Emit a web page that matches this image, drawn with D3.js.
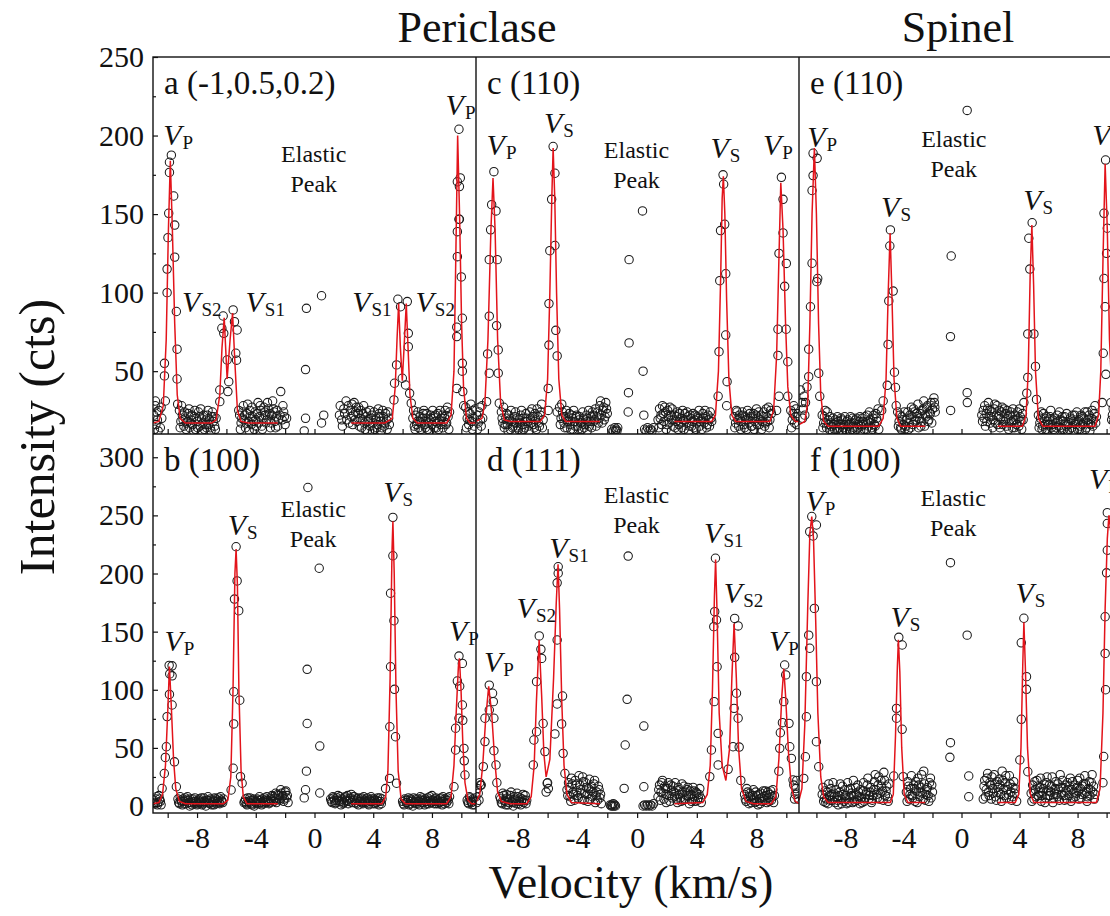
<!DOCTYPE html>
<html><head><meta charset="utf-8">
<script src="https://cdn.jsdelivr.net/npm/d3@7"></script>
<style>
body{margin:0;background:#fff}
svg{display:block}
text{font-family:"Liberation Serif","Times New Roman",serif;fill:#111}
</style>
</head><body>
<svg id="chart" width="1110" height="916"></svg>
<script>
// ---------------- DATA ----------------
const columnTitles = ["Periclase", "Spinel"];
const panelNames = ["a (-1,0.5,0.2)", "b (100)", "c (110)", "d (111)", "e (110)", "f (100)"];
const xAxisTitle = "Velocity (km/s)";
const yAxisTitle = "Intensity (cts)";
const xDomains = [[-11, 11], [-10.8, 10.85], [-11.2, 11.2]];
const yDomains = [[10, 250], [-6, 320]];
const xTickAll = [-10, -8, -6, -4, -2, 0, 2, 4, 6, 8, 10];
const xTickLabels = [-8, -4, 0, 4, 8];
const yTopMajor = [50, 100, 150, 200, 250];
const yTopMinor = [25, 75, 125, 175, 225];
const yBotMajor = [0, 50, 100, 150, 200, 250, 300];
const yBotMinor = [25, 75, 125, 175, 225, 275];

// panel a (-1,0.5,0.2) periclase
const aPeaks = [[-9.75,187.5],[-9.88,183],[-9.88,176.5],[-9.59,161.5],[-9.93,150.5],[-9.52,143],[-9.98,135],[-9.52,122.6],[-10.04,115],[-10.04,100],[-9.41,88],[-9.36,64],[-10.22,55],[-10.22,47],[-9.36,45],[-10.16,31],[-9.32,29],[-10.84,31],
 [-6.22,85.1],[-6.31,77.3],[-6.18,74.1],[-5.95,57.1],[-5.84,43.3],[-5.54,89],[-5.45,81.5],[-5.27,76.2],[-5.36,61.4],[-5.31,57],[-6.45,38],[-6.45,30.6],[-5.9,37],[-5.16,25],
 [5.68,95.8],[6.32,94.3],[5.59,54],[5.45,42.3],[6.2,41.2],[6.39,74.1],[6.39,65.6],[6.48,35.9],[6.59,29.6],[5.86,91],[5.98,45.5],[5.41,31.7],
 [9.84,204],[9.73,170.6],[9.93,173],[9.87,167.5],[9.84,146.7],[9.87,146.7],[9.73,138.8],[9.73,122.9],[10.0,110],[10.07,83.7],[9.69,78],[9.69,72],[9.69,39],[10.07,55],[10.07,50],[10.1,37],[10.16,28],
 [-0.55,90],[0.48,98],[-0.61,51],[-0.61,20],[0.63,22],[0.48,17],[-0.7,12]];
const aNoise = [[-10.95,22],[-10.85,28],[-10.8,16],[-10.7,19],[-10.6,25],[-10.5,14],[-10.4,20],
 [-9.2,25],[-9.1,18],[-9.0,22],[-8.9,15],[-8.8,20],[-8.7,17],[-8.6,23],[-8.5,14],[-8.4,19],[-8.3,16],[-8.2,21],[-8.1,13],[-8.0,18],[-7.9,24],[-7.8,15],[-7.7,20],[-7.6,17],[-7.5,13],[-7.4,19],[-7.3,22],[-7.2,16],[-7.1,14],[-7.0,21],[-6.9,18],[-6.8,15],[-6.7,20],
 [-5.1,22],[-5.0,17],[-4.9,24],[-4.8,19],[-4.7,14],[-4.6,23],[-4.5,18],[-4.4,25],[-4.3,16],[-4.2,21],[-4.1,13],[-4.0,19],[-3.9,23],[-3.8,17],[-3.7,28],[-3.6,15],[-3.5,20],[-3.4,24],[-3.3,17],[-3.2,30],[-3.1,19],[-3.0,14],[-2.9,22],[-2.8,26],[-2.7,18],[-2.6,21],[-2.5,15],[-2.3,37],[-2.2,19],[-2.1,24],[-2.0,16],[-1.9,20],
 [1.7,22],[1.9,15],[2.0,26],[2.2,19],[2.3,28],[2.5,21],[2.6,16],[2.7,30],[2.8,24],[2.9,18],[3.0,27],[3.1,20],[3.2,14],[3.3,23],[3.4,17],[3.5,21],[3.6,12],[3.7,19],[3.8,15],[3.9,22],[4.0,17],[4.1,13],[4.2,20],[4.3,16],[4.4,23],[4.5,18],[4.6,14],[4.7,21],[4.8,17],[4.9,19],[5.0,24],[5.1,16],
 [6.7,20],[6.8,15],[6.9,22],[7.0,18],[7.1,14],[7.2,21],[7.3,17],[7.4,23],[7.5,16],[7.6,20],[7.7,13],[7.8,19],[7.9,22],[8.0,16],[8.1,21],[8.2,18],[8.3,14],[8.4,23],[8.5,19],[8.6,16],[8.7,22],[8.8,18],[8.9,25],[9.0,17],[9.1,21],[9.2,24],
 [10.3,27],[10.4,20],[10.5,16],[10.6,23],[10.7,18],[10.8,25],[10.9,15],[11.0,21]];
const aNoiseExtra = [[-10.9,13],[-10.75,24],[-10.65,12],[-10.45,27],
 [-9.15,14],[-9.05,28],[-8.95,19],[-8.85,24],[-8.75,13],[-8.65,18],[-8.55,26],[-8.45,17],[-8.35,22],[-8.25,12],[-8.15,25],[-8.05,20],[-7.95,14],[-7.85,21],[-7.75,26],[-7.65,12],[-7.55,22],[-7.45,16],[-7.35,14],[-7.25,25],[-7.15,19],[-7.05,12],[-6.95,24],[-6.85,21],[-6.75,13],
 [-5.05,13],[-4.95,20],[-4.85,28],[-4.75,22],[-4.65,17],[-4.55,29],[-4.45,12],[-4.35,21],[-4.25,27],[-4.15,18],[-4.05,24],[-3.95,15],[-3.85,30],[-3.75,21],[-3.65,25],[-3.55,13],[-3.45,27],[-3.35,22],[-3.25,19],[-3.15,26],[-3.05,23],[-2.95,17],[-2.85,31],[-2.75,24],[-2.65,14],[-2.55,25],[-2.45,19],[-2.35,22],[-2.15,28],[-2.05,21],
 [1.75,28],[1.85,19],[2.05,23],[2.15,31],[2.35,17],[2.45,25],[2.55,29],[2.65,22],[2.75,19],[2.85,27],[2.95,23],[3.05,15],[3.15,25],[3.25,19],[3.35,28],[3.45,13],[3.55,24],[3.65,18],[3.75,25],[3.85,20],[3.95,12],[4.05,24],[4.15,19],[4.25,14],[4.35,26],[4.45,21],[4.55,12],[4.65,25],[4.75,15],[4.85,23],[4.95,13],[5.05,20],
 [6.75,25],[6.85,13],[6.95,16],[7.05,24],[7.15,18],[7.25,13],[7.35,20],[7.45,25],[7.55,14],[7.65,23],[7.75,17],[7.85,12],[7.95,20],[8.05,25],[8.15,14],[8.25,22],[8.35,17],[8.45,13],[8.55,25],[8.65,20],[8.75,14],[8.85,21],[8.95,16],[9.05,27],[9.15,13],
 [10.35,14],[10.45,24],[10.55,19],[10.65,29],[10.75,13],[10.85,20],[10.95,26]];
const aFit = [
 [[-11,17],[-10.6,18],[-10.3,28],[-10.1,70],[-9.95,140],[-9.82,184],[-9.68,140],[-9.52,80],[-9.35,35],[-9.15,20],[-8.8,17],[-7,17],[-6.7,19],[-6.45,35],[-6.3,65],[-6.15,84],[-5.95,45],[-5.75,70],[-5.58,87],[-5.42,55],[-5.25,25],[-5.0,18],[-4.5,17],[-2.5,17]],
 [[2.5,17],[4.8,17],[5.3,20],[5.5,40],[5.62,70],[5.73,93],[5.85,65],[5.98,44],[6.1,65],[6.25,93],[6.35,70],[6.5,35],[6.7,20],[7,17],[9.0,17],[9.3,22],[9.5,50],[9.62,120],[9.75,200],[9.88,150],[10.02,80],[10.15,40],[10.35,20],[10.6,17],[11,17]]];
const aLabels = [[-10.31,194,"P"],[-9.02,87.9,"S2"],[-4.7,87.9,"S1"],[2.57,87.9,"S1"],[6.88,87.9,"S2"],[8.93,213,"P"]];
const aElastic = [-0.05,183.4];

// panel b (100) periclase
const bPeaks = [[-9.7,120.6],[-9.9,121],[-9.86,113.6],[-9.7,112],[-9.88,96],[-9.7,86.9],[-10.04,76.9],[-10.09,51],[-10.16,41.8],[-9.54,38],[-10.23,28],[-9.41,16.6],[-10.38,15.1],
 [-5.34,223],[-5.27,193.6],[-5.45,178],[-5.16,168],[-5.5,98.3],[-5.09,91],[-5.5,70.6],[-5.54,32.5],[-5.04,25.3],[-5.68,13.8],[-4.93,19.6],
 [-0.45,274],[0.32,204.5],[-0.5,117.6],[-0.5,71],[0.36,51.6],[-0.55,30],[-0.61,14],[0.36,11.2],[-0.7,7],
 [5.34,248.3],[5.34,215.3],[5.18,183],[5.41,159.4],[5.18,119.8],[5.45,100.4],[5.13,68.2],[5.52,59.6],[5.11,23.8],[5.59,19.6],[4.84,15],
 [9.84,129],[10.07,122.7],[9.73,107.5],[9.89,103],[10.07,86.9],[9.84,75.5],[10.1,73.7],[9.61,66.9],[9.61,48.2],[10.18,49.6],[10.2,38.9],[10.25,26.7],[9.5,16.6]];
const bNoise = [[-10.95,5],[-10.85,2],[-10.75,8],[-10.65,3],[-10.55,6],[-10.45,1],
 [-9.3,6],[-9.2,2],[-9.1,5],[-9.0,1],[-8.9,4],[-8.8,7],[-8.7,2],[-8.6,5],[-8.5,0],[-8.4,3],[-8.3,6],[-8.2,2],[-8.1,4],[-8.0,1],[-7.9,5],[-7.8,3],[-7.7,7],[-7.6,2],[-7.5,4],[-7.4,0],[-7.3,5],[-7.2,3],[-7.1,6],[-7.0,1],[-6.9,4],[-6.8,7],[-6.7,2],[-6.6,5],[-6.5,3],[-6.4,8],[-6.3,4],[-6.2,6],
 [-4.8,3],[-4.7,6],[-4.6,1],[-4.5,4],[-4.4,7],[-4.3,2],[-4.2,5],[-4.1,0],[-4.0,3],[-3.9,6],[-3.8,2],[-3.7,5],[-3.6,1],[-3.5,4],[-3.4,7],[-3.3,3],[-3.2,5],[-3.1,2],[-3.0,6],[-2.9,9],[-2.8,4],[-2.7,7],[-2.6,3],[-2.5,10],[-2.4,6],[-2.3,14],[-2.2,8],[-2.1,4],[-2.0,12],[-1.9,7],[-1.8,3],
 [1.1,6],[1.2,3],[1.3,7],[1.4,2],[1.5,5],[1.6,9],[1.7,4],[1.8,1],[1.9,6],[2.0,3],[2.1,8],[2.2,4],[2.3,2],[2.4,6],[2.5,10],[2.6,5],[2.7,8],[2.8,3],[2.9,6],[3.0,1],[3.1,4],[3.2,7],[3.3,2],[3.4,5],[3.5,3],[3.6,7],[3.7,1],[3.8,4],[3.9,6],[4.0,2],[4.1,5],[4.2,3],[4.3,7],[4.4,1],[4.5,4],[4.6,6],
 [6.0,4],[6.1,1],[6.2,5],[6.3,3],[6.4,7],[6.5,2],[6.6,5],[6.7,0],[6.8,3],[6.9,6],[7.0,2],[7.1,4],[7.2,8],[7.3,3],[7.4,5],[7.5,1],[7.6,4],[7.7,7],[7.8,2],[7.9,5],[8.0,9],[8.1,4],[8.2,6],[8.3,2],[8.4,5],[8.5,3],[8.6,7],[8.7,1],[8.8,4],[8.9,6],[9.0,3],[9.1,5],[9.2,8],
 [10.4,5],[10.5,2],[10.6,7],[10.7,3],[10.8,6],[10.9,1],[11.0,4]];
const bNoiseExtra = [[-10.9,3],[-10.8,6],[-10.7,1],[-10.6,9],[-10.5,4],
 [-9.25,3],[-9.15,8],[-9.05,4],[-8.95,6],[-8.85,2],[-8.75,5],[-8.65,8],[-8.55,3],[-8.45,6],[-8.35,1],[-8.25,4],[-8.15,7],[-8.05,3],[-7.95,2],[-7.85,6],[-7.75,4],[-7.65,1],[-7.55,7],[-7.45,3],[-7.35,5],[-7.25,8],[-7.15,2],[-7.05,5],[-6.95,3],[-6.85,1],[-6.75,6],[-6.65,4],[-6.55,7],[-6.45,2],[-6.35,5],[-6.25,3],
 [-4.75,4],[-4.65,2],[-4.55,7],[-4.45,3],[-4.35,5],[-4.25,1],[-4.15,6],[-4.05,4],[-3.95,2],[-3.85,5],[-3.75,8],[-3.65,3],[-3.55,6],[-3.45,2],[-3.35,5],[-3.25,8],[-3.15,4],[-3.05,3],[-2.95,5],[-2.85,8],[-2.75,4],[-2.65,11],[-2.55,6],[-2.45,9],[-2.35,5],[-2.25,11],[-2.15,9],[-2.05,6],[-1.95,13],[-1.85,9],
 [1.15,4],[1.25,8],[1.35,5],[1.45,3],[1.55,7],[1.65,5],[1.75,8],[1.85,4],[1.95,2],[2.05,7],[2.15,5],[2.25,9],[2.35,4],[2.45,7],[2.55,3],[2.65,8],[2.75,5],[2.85,2],[2.95,7],[3.05,4],[3.15,6],[3.25,3],[3.35,8],[3.45,4],[3.55,6],[3.65,2],[3.75,5],[3.85,8],[3.95,4],[4.05,6],[4.15,2],[4.25,5],[4.35,4],[4.45,7],[4.55,2],
 [6.05,2],[6.15,6],[6.25,3],[6.35,5],[6.45,1],[6.55,6],[6.65,4],[6.75,7],[6.85,2],[6.95,4],[7.05,6],[7.15,1],[7.25,5],[7.35,7],[7.45,3],[7.55,6],[7.65,2],[7.75,4],[7.85,8],[7.95,3],[8.05,5],[8.15,2],[8.25,7],[8.35,4],[8.45,2],[8.55,6],[8.65,4],[8.75,8],[8.85,2],[8.95,5],[9.05,7],[9.15,2],
 [10.45,3],[10.55,8],[10.65,4],[10.75,1],[10.85,5],[10.95,7]];
const bFit = [
 [[-11,2],[-10.6,3],[-10.35,10],[-10.15,35],[-10.0,80],[-9.88,120],[-9.75,85],[-9.6,40],[-9.45,15],[-9.2,4],[-8.8,2],[-6.2,2],[-5.9,5],[-5.7,25],[-5.55,100],[-5.42,200],[-5.34,221],[-5.25,190],[-5.15,100],[-5.0,30],[-4.85,8],[-4.6,2],[-2.5,2]],
 [[2.5,2],[4.6,2],[4.85,8],[5.0,30],[5.15,110],[5.28,220],[5.34,245],[5.43,200],[5.55,100],[5.7,30],[5.9,6],[6.2,2],[9.0,2],[9.3,8],[9.5,35],[9.65,80],[9.8,120],[9.87,127],[9.98,100],[10.1,55],[10.25,20],[10.45,5],[10.7,2],[11,2]]];
const bLabels = [[-10.22,133.6,"P"],[-5.91,233.1,"S"],[4.68,261.8,"S"],[9.16,142.2,"P"]];
const bElastic = [-0.09,248.9];

// panel c (110) periclase
const cPeaks = [[-9.6,177],[-9.75,156],[-9.46,152],[-9.82,140],[-9.91,121],[-9.38,121],[-9.91,85],[-9.42,79],[-10.02,61],[-9.31,63.5],[-9.91,48.7],[-9.31,48.7],[-10.09,30.6],[-9.24,29.6],
 [-5.63,193],[-5.51,176],[-5.73,159.4],[-5.51,130],[-5.85,126.7],[-5.91,93],[-5.45,76],[-5.91,66.6],[-5.36,59.7],[-5.96,39],[-5.96,25],[-5.36,24],
 [0.36,152],[-0.54,121],[-0.54,68],[0.4,50],[-0.58,36.3],[-0.6,24],[0.45,22],
 [5.76,175],[5.8,169],[5.87,143.5],[5.59,139.5],[5.94,112],[5.54,107.6],[5.94,73],[5.49,62.4],[6.03,43.3],[5.43,34],[6.0,28],
 [9.67,173.4],[9.78,159.4],[9.78,138],[9.51,125],[10.0,118.6],[9.89,104],[9.44,76.7],[9.99,76.7],[9.44,60],[10.1,56],[9.51,34],[10.1,34],[9.35,25]];
const cNoise = [[-10.75,22],[-10.65,17],[-10.55,27],[-10.45,15],[-10.35,20],
 [-9.1,24],[-9.0,17],[-8.9,14],[-8.8,20],[-8.7,16],[-8.6,22],[-8.5,13],[-8.4,18],[-8.3,15],[-8.2,21],[-8.1,17],[-8.0,14],[-7.9,19],[-7.8,22],[-7.7,16],[-7.6,13],[-7.5,18],[-7.4,20],[-7.3,15],[-7.2,24],[-7.1,17],[-7.0,21],[-6.9,14],[-6.8,19],[-6.7,26],[-6.6,17],[-6.5,22],[-6.4,29],[-6.3,19],
 [-5.2,27],[-5.1,20],[-5.0,24],[-4.9,17],[-4.8,21],[-4.7,14],[-4.6,19],[-4.5,16],[-4.4,22],[-4.3,13],[-4.2,18],[-4.1,21],[-4.0,15],[-3.9,19],[-3.8,17],[-3.7,13],[-3.6,20],[-3.5,16],[-3.4,22],[-3.3,18],[-3.2,15],[-3.1,21],[-3.0,24],[-2.9,18],[-2.8,26],[-2.7,21],[-2.6,17],[-2.5,28],[-2.4,22],[-2.3,25],[-2.2,19],[-2.1,30],[-2.0,23],
 [-1.7,13],[-1.6,12],[-1.5,14],[-1.45,12],[-1.4,13],[-1.35,12],[-1.3,14],
 [0.5,13],[0.6,12],[0.7,14],[0.8,12],[0.9,13],[1.0,12],[1.1,14],
 [1.4,19],[1.5,26],[1.6,22],[1.7,28],[1.8,18],[1.9,24],[2.0,16],[2.1,21],[2.2,27],[2.3,19],[2.4,15],[2.5,22],[2.6,18],[2.7,24],[2.8,16],[2.9,20],[3.0,14],[3.1,19],[3.2,23],[3.3,17],[3.4,21],[3.5,15],[3.6,20],[3.7,18],[3.8,14],[3.9,22],[4.0,17],[4.1,20],[4.2,15],[4.3,19],[4.4,23],[4.5,17],[4.6,21],[4.7,16],[4.8,19],[4.9,24],[5.0,18],
 [6.5,21],[6.6,17],[6.7,24],[6.8,15],[6.9,20],[7.0,18],[7.1,22],[7.2,14],[7.3,19],[7.4,25],[7.5,17],[7.6,21],[7.7,15],[7.8,23],[7.9,18],[8.0,26],[8.1,20],[8.2,16],[8.3,22],[8.4,18],[8.5,24],[8.6,17],[8.7,21],[8.8,27],[8.9,19],[9.0,23],
 [10.3,25],[10.4,19],[10.5,28],[10.6,21],[10.7,16],[10.8,23]];
const cNoiseExtra = [[-10.7,13],[-10.6,24],[-10.5,19],[-10.4,28],
 [-9.05,20],[-8.95,27],[-8.85,16],[-8.75,23],[-8.65,12],[-8.55,19],[-8.45,25],[-8.35,14],[-8.25,17],[-8.15,24],[-8.05,20],[-7.95,13],[-7.85,17],[-7.75,25],[-7.65,20],[-7.55,14],[-7.45,23],[-7.35,18],[-7.25,12],[-7.15,20],[-7.05,26],[-6.95,16],[-6.85,23],[-6.75,13],[-6.65,21],[-6.55,15],[-6.45,24],[-6.35,14],
 [-5.15,16],[-5.05,29],[-4.95,21],[-4.85,14],[-4.75,25],[-4.65,18],[-4.55,23],[-4.45,13],[-4.35,20],[-4.25,25],[-4.15,15],[-4.05,22],[-3.95,13],[-3.85,21],[-3.75,17],[-3.65,24],[-3.55,14],[-3.45,19],[-3.35,12],[-3.25,25],[-3.15,18],[-3.05,14],[-2.95,22],[-2.85,19],[-2.75,15],[-2.65,24],[-2.55,20],[-2.45,31],[-2.35,17],[-2.25,27],[-2.15,21],[-2.05,26],
 [1.45,14],[1.55,20],[1.65,16],[1.75,23],[1.85,27],[1.95,13],[2.05,25],[2.15,17],[2.25,22],[2.35,26],[2.45,19],[2.55,14],[2.65,21],[2.75,13],[2.85,23],[2.95,17],[3.05,25],[3.15,13],[3.25,19],[3.35,24],[3.45,12],[3.55,22],[3.65,15],[3.75,23],[3.85,19],[3.95,13],[4.05,21],[4.15,25],[4.25,18],[4.35,13],[4.45,20],[4.55,25],[4.65,14],[4.75,22],[4.85,15],[4.95,20],
 [6.55,14],[6.65,25],[6.75,19],[6.85,22],[6.95,13],[7.05,24],[7.15,16],[7.25,21],[7.35,13],[7.45,19],[7.55,23],[7.65,15],[7.75,20],[7.85,13],[7.95,22],[8.05,16],[8.15,24],[8.25,19],[8.35,13],[8.45,21],[8.55,15],[8.65,26],[8.75,18],[8.85,14],[8.95,25],
 [10.35,14],[10.45,23],[10.55,17],[10.65,26],[10.75,21]];
const cFit = [
 [[-10.8,18],[-10.4,20],[-10.2,30],[-10.0,70],[-9.8,140],[-9.66,173],[-9.52,140],[-9.35,70],[-9.15,30],[-8.9,19],[-8.5,18],[-6.5,18],[-6.2,22],[-6.0,45],[-5.85,100],[-5.72,160],[-5.63,192],[-5.52,160],[-5.4,100],[-5.25,45],[-5.05,22],[-4.8,18],[-2.5,18]],
 [[2.5,18],[5.0,18],[5.25,22],[5.45,50],[5.6,110],[5.7,160],[5.78,174],[5.88,150],[6.0,95],[6.15,45],[6.35,22],[6.6,18],[8.9,18],[9.15,25],[9.35,60],[9.5,120],[9.63,170],[9.78,140],[9.95,80],[10.1,40],[10.3,22],[10.6,18],[10.85,18]]];
const cLabels = [[-10.09,187.6,"P"],[-6.25,201.4,"S"],[4.92,185.5,"S"],[8.44,187.6,"P"]];
const cElastic = [-0.04,185.5];

// panel d (111) periclase
const dPeaks = [[-9.91,104],[-9.69,97],[-9.64,89.8],[-9.91,82.6],[-9.6,75.5],[-10.2,75.5],[-10.2,55.4],[-9.6,47.6],[-10.31,33.9],[-9.46,35.3],[-9.4,20],[-10.45,18],
 [-6.56,146.3],[-6.45,134.8],[-6.4,127],[-6.74,107],[-6.3,71],[-6.74,63.9],[-6.92,56.8],[-6.18,46.8],[-6.96,35.3],[-6.03,19.6],
 [-5.29,205.8],[-5.29,200.2],[-5.36,192],[-5.36,142.8],[-5.0,94.6],[-5.36,87.8],[-5.06,70.6],[-5.51,62],[-4.96,45.3],[-4.84,28],
 [-0.6,215],[-0.67,91.8],[0.45,68.8],[-0.8,52.5],[-0.87,15.2],[0.45,16.6],
 [5.25,213.1],[5.2,167.2],[5.32,160],[5.14,154.3],[5.36,119.8],[5.16,89.8],[5.43,62.5],[4.98,48.2],[4.87,25.3],[5.43,35.3],
 [6.54,161.4],[6.77,154.9],[6.54,127.9],[6.66,97],[6.5,84],[6.77,75.5],[6.43,51],[6.84,50.7],[6.1,31.6],[6.95,22],
 [9.89,121.3],[9.96,112.8],[9.83,89.8],[9.74,71.7],[10.18,71.1],[9.6,63],[10.23,51],[9.56,49.6],[10.34,41],[9.5,30],[10.45,22.4]];
const dNoise = [[-10.8,8],[-10.7,15],[-10.6,5],[-10.5,18],
 [-9.2,8],[-9.1,3],[-9.0,11],[-8.9,5],[-8.8,1],[-8.7,7],[-8.6,3],[-8.5,9],[-8.4,4],[-8.3,0],[-8.2,6],[-8.1,2],[-8.0,8],[-7.9,4],[-7.8,1],[-7.7,6],[-7.6,3],[-7.5,9],[-7.4,5],
 [-6.1,12],[-6.0,20],[-5.95,15],
 [-4.7,14],[-4.6,20],[-4.5,8],[-4.4,24],[-4.3,12],[-4.2,5],[-4.1,18],[-4.0,9],[-3.9,26],[-3.8,14],[-3.7,6],[-3.6,21],[-3.5,11],[-3.4,16],[-3.3,4],[-3.2,23],[-3.1,13],[-3.0,8],[-2.9,19],[-2.8,3],[-2.7,12],[-2.6,17],[-2.5,7],[-2.4,2],
 [-1.8,1],[-1.75,0],[-1.7,1],[-1.65,0],[-1.6,2],[-1.55,0],[-1.5,1],[-1.45,0],
 [0.4,0],[0.5,1],[0.6,0],[0.7,1],[0.8,0],[0.9,1],[1.0,0],[1.1,2],
 [1.4,8],[1.5,18],[1.6,12],[1.7,22],[1.8,6],[1.9,15],[2.0,10],[2.1,20],[2.2,4],[2.3,13],[2.4,17],[2.5,8],[2.6,11],[2.7,3],[2.8,14],[2.9,7],[3.0,19],[3.1,5],[3.2,12],[3.3,9],[3.4,16],[3.5,2],[3.6,10],[3.7,6],[3.8,13],[3.9,4],[4.0,11],[4.1,7],[4.2,15],[4.3,3],
 [7.2,10],[7.3,4],[7.4,12],[7.5,2],[7.6,8],[7.7,5],[7.8,14],[7.9,3],[8.0,9],[8.1,1],[8.2,6],[8.3,11],[8.4,4],[8.5,8],[8.6,13],[8.7,3],[8.8,7],[8.9,10],[9.0,5],[9.1,14],[9.2,9],
 [10.5,18],[10.6,10],[10.7,22],[10.8,6]];
const dNoiseExtra = [[-10.75,3],[-10.65,11],[-10.55,20],
 [-9.15,6],[-9.05,2],[-8.95,9],[-8.85,4],[-8.75,10],[-8.65,1],[-8.55,6],[-8.45,12],[-8.35,3],[-8.25,8],[-8.15,5],[-8.05,11],[-7.95,2],[-7.85,7],[-7.75,4],[-7.65,10],[-7.55,5],[-7.45,2],
 [-4.65,9],[-4.55,16],[-4.45,4],[-4.35,19],[-4.25,10],[-4.15,22],[-4.05,13],[-3.95,7],[-3.85,18],[-3.75,11],[-3.65,25],[-3.55,5],[-3.45,20],[-3.35,10],[-3.25,15],[-3.15,6],[-3.05,17],[-2.95,12],[-2.85,22],[-2.75,9],[-2.65,5],[-2.55,14],[-2.45,10],
 [1.45,14],[1.55,5],[1.65,20],[1.75,11],[1.85,17],[1.95,3],[2.05,15],[2.15,9],[2.25,18],[2.35,7],[2.45,12],[2.55,20],[2.65,6],[2.75,16],[2.85,10],[2.95,4],[3.05,12],[3.15,17],[3.25,6],[3.35,14],[3.45,9],[3.55,13],[3.65,4],[3.75,16],[3.85,8],[3.95,12],[4.05,5],[4.15,10],[4.25,7],
 [7.25,6],[7.35,15],[7.45,7],[7.55,11],[7.65,3],[7.75,9],[7.85,6],[7.95,12],[8.05,4],[8.15,10],[8.25,2],[8.35,7],[8.45,13],[8.55,5],[8.65,9],[8.75,12],[8.85,4],[8.95,13],[9.05,8],[9.15,3],
 [10.55,6],[10.65,15],[10.75,11]];
const dFit = [
 [[-10.8,3],[-10.55,10],[-10.35,35],[-10.15,75],[-9.95,103],[-9.75,80],[-9.55,40],[-9.35,12],[-9.1,4],[-8.5,2],[-7.4,2],[-7.1,8],[-6.9,35],[-6.75,90],[-6.57,143],[-6.4,95],[-6.25,45],[-6.1,25],[-5.85,40],[-5.6,110],[-5.42,175],[-5.3,208],[-5.2,170],[-5.05,90],[-4.9,35],[-4.7,10],[-4.4,3],[-2.5,2]],
 [[2.5,2],[4.4,3],[4.7,10],[4.9,35],[5.05,100],[5.18,180],[5.26,212],[5.35,170],[5.5,80],[5.7,35],[5.95,22],[6.2,50],[6.35,110],[6.5,157],[6.65,110],[6.8,50],[7.0,15],[7.3,4],[7.8,2],[9.0,2],[9.3,8],[9.5,40],[9.7,95],[9.83,118],[9.95,95],[10.15,45],[10.35,15],[10.6,4],[10.85,2]]];
const dLabels = [[-10.27,115.6,"P"],[-8.08,161.4,"S2"],[-5.89,213,"S1"],[4.49,226,"S1"],[5.81,174.4,"S2"],[8.84,133.6,"P"]];
const dElastic = [-0.04,260.4];

// panel e (110) spinel
const ePeaks = [[-10.23,188.7],[-9.95,185.5],[-10.23,174.5],[-10.3,165],[-10.3,118.7],[-9.91,109],[-9.97,107],[-10.41,91],[-10.53,64],[-9.84,48.7],[-10.53,46.5],[-9.77,34],[-10.65,40],
 [-4.9,139.9],[-4.94,129.7],[-4.71,101],[-5.01,94.7],[-5.06,67],[-4.62,49.3],[-5.12,41],[-4.55,39.6],[-4.5,28],
 [0.39,216],[-0.71,123.3],[-0.76,72],[0.39,36.3],[0.4,30],[-0.75,25],
 [4.87,144.5],[4.64,134.6],[4.71,115],[4.57,73.7],[4.99,73.7],[5.1,53],[4.57,46],[5.17,32],[4.5,36],
 [9.93,184.4],[9.82,150.5],[10.05,141],[10.0,125],[9.82,109],[9.9,91],[9.77,61.4],[9.95,48],[9.7,30]];
const eNoise = [[-11.1,38],[-11.0,30],[-10.9,26],[-10.85,34],[-10.8,22],
 [-9.6,22],[-9.5,17],[-9.4,25],[-9.3,14],[-9.2,19],[-9.1,13],[-9.0,17],[-8.9,12],[-8.8,16],[-8.7,19],[-8.6,13],[-8.5,18],[-8.4,14],[-8.3,20],[-8.2,12],[-8.1,16],[-8.0,13],[-7.9,18],[-7.8,15],[-7.7,12],[-7.6,17],[-7.5,20],[-7.4,14],[-7.3,19],[-7.2,13],[-7.1,16],[-7.0,21],[-6.9,15],[-6.8,18],[-6.7,13],[-6.6,17],[-6.5,22],[-6.4,15],[-6.3,19],[-6.2,14],[-6.1,20],[-6.0,16],[-5.9,23],[-5.8,18],[-5.7,13],
 [-5.5,25],[-5.4,31],[-4.4,24],
 [-4.3,18],[-4.2,14],[-4.1,21],[-4.0,16],[-3.9,13],[-3.8,19],[-3.7,24],[-3.6,17],[-3.5,14],[-3.4,21],[-3.3,26],[-3.2,18],[-3.1,23],[-3.0,29],[-2.9,20],[-2.8,15],[-2.7,25],[-2.6,31],[-2.5,22],[-2.4,27],[-2.3,18],[-2.2,24],[-2.1,30],[-2.0,26],[-1.9,33],[-1.87,30],[-1.84,27],[-1.81,24],
 [1.4,22],[1.5,25],[1.55,20],[1.6,28],[1.7,23],[1.75,18],[1.8,26],[1.9,21],[2.0,17],[2.1,24],[2.2,19],[2.3,29],[2.4,22],[2.5,16],[2.6,25],[2.7,20],[2.8,27],[2.9,18],[3.0,23],[3.1,15],[3.2,21],[3.3,17],[3.4,24],[3.5,14],[3.6,19],[3.7,22],[3.8,16],[3.9,20],[4.0,26],[4.1,18],[4.2,23],[4.3,30],
 [5.3,22],[5.4,17],[5.5,24],[5.6,15],[5.7,20],[5.8,13],[5.9,18],[6.0,16],[6.1,21],[6.2,14],[6.3,19],[6.4,12],[6.5,17],[6.6,22],[6.7,15],[6.8,19],[6.9,13],[7.0,18],[7.1,21],[7.2,15],[7.3,12],[7.4,17],[7.5,20],[7.6,14],[7.7,18],[7.8,22],[7.9,16],[8.0,13],[8.1,19],[8.2,15],[8.3,21],[8.4,17],[8.5,24],[8.6,14],[8.7,19],[8.8,22],[8.9,16],[9.0,25],[9.1,19],[9.2,28],[9.3,21],
 [10.3,30],[10.4,22],[10.5,18],[10.6,25],[10.7,20],[10.8,27],[10.9,16],[11.0,23],[11.1,19]];
const eNoiseExtra = [[-10.95,20],[-10.75,30],
 [-9.55,14],[-9.45,21],[-9.35,17],[-9.25,24],[-9.15,16],[-9.05,21],[-8.95,15],[-8.85,20],[-8.75,13],[-8.65,17],[-8.55,21],[-8.45,12],[-8.35,16],[-8.25,19],[-8.15,14],[-8.05,21],[-7.95,12],[-7.85,19],[-7.75,16],[-7.65,21],[-7.55,13],[-7.45,17],[-7.35,12],[-7.25,20],[-7.15,14],[-7.05,18],[-6.95,12],[-6.85,20],[-6.75,16],[-6.65,21],[-6.55,13],[-6.45,18],[-6.35,24],[-6.25,17],[-6.15,13],[-6.05,22],[-5.95,15],[-5.85,20],[-5.75,26],
 [-4.35,15],[-4.25,22],[-4.15,13],[-4.05,19],[-3.95,24],[-3.85,15],[-3.75,20],[-3.65,13],[-3.55,22],[-3.45,27],[-3.35,16],[-3.25,24],[-3.15,19],[-3.05,21],[-2.95,14],[-2.85,23],[-2.75,18],[-2.65,26],[-2.55,15],[-2.45,21],[-2.35,28],[-2.25,19],[-2.15,23],[-2.05,17],
 [1.45,18],[1.65,15],[1.85,30],[1.95,25],[2.05,21],[2.15,14],[2.25,26],[2.35,17],[2.45,28],[2.55,21],[2.65,14],[2.75,24],[2.85,16],[2.95,26],[3.05,19],[3.15,25],[3.25,13],[3.35,22],[3.45,18],[3.55,26],[3.65,14],[3.75,19],[3.85,24],[3.95,15],[4.05,21],[4.15,13],[4.25,19],
 [5.35,14],[5.45,20],[5.55,13],[5.65,23],[5.75,16],[5.85,21],[5.95,12],[6.05,19],[6.15,25],[6.25,16],[6.35,13],[6.45,20],[6.55,14],[6.65,18],[6.75,24],[6.85,14],[6.95,21],[7.05,13],[7.15,17],[7.25,23],[7.35,16],[7.45,13],[7.55,19],[7.65,22],[7.75,12],[7.85,17],[7.95,24],[8.05,18],[8.15,13],[8.25,22],[8.35,16],[8.45,20],[8.55,13],[8.65,24],[8.75,17],[8.85,12],[8.95,20],[9.05,15],[9.15,23],[9.25,17],
 [10.35,19],[10.45,26],[10.55,14],[10.65,21],[10.75,16],[10.85,23],[10.95,28],[11.05,20]];
const eFit = [
 [[-11.2,16],[-10.8,18],[-10.6,30],[-10.45,80],[-10.3,150],[-10.14,192],[-10.0,150],[-9.85,80],[-9.7,35],[-9.5,18],[-9.2,15],[-5.7,15],[-5.4,20],[-5.2,45],[-5.05,100],[-4.92,138],[-4.8,100],[-4.65,45],[-4.45,20],[-4.2,15],[-2.5,15]],
 [[2.5,15],[4.2,15],[4.45,22],[4.6,50],[4.73,110],[4.85,143],[4.97,105],[5.1,50],[5.3,20],[5.6,15],[9.2,15],[9.45,22],[9.6,50],[9.75,120],[9.9,182],[10.05,140],[10.2,70],[10.4,30],[10.7,17],[11.2,15]]];
const eLabels = [[-10.64,193,"P"],[-5.54,148.3,"S"],[4.25,152.6,"S"],[9.01,194,"P"]];
const eElastic = [-0.53,193];

// panel f (100) spinel
const fPeaks = [[-10.32,249],[-10.0,241.7],[-10.46,236],[-10.23,232.3],[-10.14,170],[-10.53,147],[-10.46,135.7],[-10.69,111.3],[-10.0,107],[-10.69,76.8],[-10.0,55.3],[-10.76,42.4],[-9.84,33.8],[-10.87,23.8],
 [-4.32,145.1],[-4.09,138.5],[-4.48,84],[-4.48,75.5],[-4.09,66],[-4.67,25.8],[-4.02,25.3],
 [-0.76,209.3],[0.39,147],[-0.76,54.5],[-0.8,41.9],[0.5,25.8],[0.5,8],
 [4.3,161.5],[4.12,140.4],[4.48,111.3],[4.48,100.4],[4.12,74.6],[4.02,39.6],[4.57,29.5],
 [10.05,252.3],[10.05,243],[10.05,220],[10.0,200.6],[9.9,162.8],[9.9,131.3],[9.93,100],[9.8,42.6],[9.75,20]];
const fNoise = [[-9.6,10],[-9.5,4],[-9.4,13],[-9.3,6],[-9.2,2],[-9.1,9],[-9.0,15],[-8.9,5],[-8.8,11],[-8.7,3],[-8.6,8],[-8.5,1],[-8.4,12],[-8.3,6],[-8.2,17],[-8.1,4],[-8.0,9],[-7.9,2],[-7.8,14],[-7.7,7],[-7.6,11],[-7.5,3],[-7.4,8],[-7.3,16],[-7.2,5],[-7.1,12],[-7.0,2],[-6.9,7],[-6.8,13],[-6.7,4],[-6.6,10],[-6.5,18],[-6.4,6],[-6.3,12],[-6.2,3],[-6.1,9],[-6.0,21],[-5.9,14],[-5.8,7],[-5.7,25],[-5.6,11],[-5.5,17],[-5.4,5],[-5.3,22],[-5.2,13],[-5.1,8],[-5.0,19],
 [-3.8,12],[-3.7,21],[-3.6,6],[-3.5,15],[-3.4,9],[-3.3,18],[-3.2,4],[-3.1,13],[-3.0,24],[-2.9,8],[-2.8,16],[-2.7,11],[-2.6,30],[-2.5,5],[-2.4,14],[-2.3,9],[-2.2,20],[-2.14,24],[-2.1,7],[-2.0,12],
 [1.5,6],[1.6,22],[1.7,14],[1.8,28],[1.9,9],[2.0,18],[2.1,25],[2.2,11],[2.3,19],[2.4,5],[2.5,16],[2.6,23],[2.7,10],[2.8,30],[2.9,14],[3.0,20],[3.1,7],[3.2,17],[3.3,26],[3.4,12],[3.5,8],[3.6,21],[3.7,15],[3.8,4],
 [4.8,11],[4.9,18],[5.0,6],[5.1,14],[5.2,22],[5.3,9],[5.4,16],[5.5,4],[5.6,12],[5.7,19],[5.8,7],[5.9,25],[6.0,13],[6.1,9],[6.2,17],[6.3,3],[6.4,11],[6.5,21],[6.6,8],[6.7,14],[6.8,27],[6.9,10],[7.0,16],[7.1,5],[7.2,13],[7.3,20],[7.4,9],[7.5,24],[7.6,14],[7.7,7],[7.8,18],[7.9,11],[8.0,22],[8.1,6],[8.2,15],[8.3,10],[8.4,19],[8.5,26],[8.6,12],[8.7,8],[8.8,21],[8.9,14],[9.0,27],[9.1,17],[9.2,10],
 [10.6,12],[10.8,20]];
const fNoiseExtra = [[-9.55,16],[-9.45,7],[-9.35,3],[-9.25,12],[-9.15,19],[-9.05,5],[-8.95,10],[-8.85,20],[-8.75,8],[-8.65,14],[-8.55,5],[-8.45,9],[-8.35,19],[-8.25,2],[-8.15,10],[-8.05,14],[-7.95,6],[-7.85,20],[-7.75,3],[-7.65,15],[-7.55,9],[-7.45,22],[-7.35,4],[-7.25,10],[-7.15,18],[-7.05,8],[-6.95,14],[-6.85,3],[-6.75,20],[-6.65,7],[-6.55,12],[-6.45,24],[-6.35,9],[-6.25,16],[-6.15,5],[-6.05,14],[-5.95,27],[-5.85,10],[-5.75,18],[-5.65,6],[-5.55,22],[-5.45,13],[-5.35,29],[-5.25,9],[-5.15,17],[-5.05,4],
 [-3.75,4],[-3.65,17],[-3.55,10],[-3.45,26],[-3.35,7],[-3.25,15],[-3.15,21],[-3.05,3],[-2.95,18],[-2.85,12],[-2.75,27],[-2.65,6],[-2.55,19],[-2.45,10],[-2.35,16],[-2.25,4],[-2.05,18],
 [1.55,17],[1.65,8],[1.75,24],[1.85,12],[1.95,20],[2.05,6],[2.15,15],[2.25,27],[2.35,8],[2.45,21],[2.55,12],[2.65,18],[2.75,4],[2.85,22],[2.95,9],[3.05,26],[3.15,14],[3.25,10],[3.35,19],[3.45,5],[3.55,16],[3.65,11],
 [4.85,4],[4.95,13],[5.05,21],[5.15,8],[5.25,17],[5.35,12],[5.45,24],[5.55,9],[5.65,15],[5.75,3],[5.85,20],[5.95,9],[6.05,18],[6.15,12],[6.25,25],[6.35,7],[6.45,15],[6.55,10],[6.65,19],[6.75,5],[6.85,16],[6.95,22],[7.05,9],[7.15,18],[7.25,6],[7.35,14],[7.45,17],[7.55,4],[7.65,21],[7.75,12],[7.85,8],[7.95,16],[8.05,13],[8.15,24],[8.25,7],[8.35,17],[8.45,11],[8.55,19],[8.65,4],[8.75,15],[8.85,9],[8.95,20],[9.05,12],[9.15,6]];
const fFit = [
 [[-11.2,5],[-11.0,15],[-10.8,70],[-10.6,170],[-10.45,235],[-10.32,249],[-10.2,230],[-10.05,160],[-9.9,80],[-9.7,25],[-9.5,8],[-9.2,3],[-4.9,3],[-4.7,10],[-4.55,60],[-4.42,120],[-4.35,143],[-4.25,115],[-4.12,50],[-3.95,10],[-3.7,3],[-2.5,3]],
 [[2.5,3],[3.7,3],[3.95,10],[4.1,50],[4.22,120],[4.3,158],[4.4,120],[4.55,50],[4.75,10],[5.0,3],[9.3,3],[9.55,15],[9.75,80],[9.9,170],[10.05,230],[10.16,250],[10.3,235],[10.5,180],[10.8,80],[11.2,20]]];
const fLabels = [[-10.76,254.1,"P"],[-4.9,154.3,"S"],[3.72,174.4,"S"],[8.78,272.7,"P"]];
const fElastic = [-0.57,258];

// ---------------- DRAWING ----------------
const svg = d3.select("#chart");
const colPx = [[153, 476], [476, 799], [799, 1124]];
const rowPx = [[57, 434], [434, 813]];
const xs = xDomains.map((d, i) => d3.scaleLinear().domain(d).range(colPx[i]));
const ys = yDomains.map((d, i) => d3.scaleLinear().domain(d).range([rowPx[i][1], rowPx[i][0]]));

const panels = [
  {col:0,row:0,name:panelNames[0],peaks:aPeaks,noise:aNoise.concat(aNoiseExtra),fit:aFit,lab:aLabels,el:aElastic},
  {col:0,row:1,name:panelNames[1],peaks:bPeaks,noise:bNoise.concat(bNoiseExtra),fit:bFit,lab:bLabels,el:bElastic},
  {col:1,row:0,name:panelNames[2],peaks:cPeaks,noise:cNoise.concat(cNoiseExtra),fit:cFit,lab:cLabels,el:cElastic},
  {col:1,row:1,name:panelNames[3],peaks:dPeaks,noise:dNoise.concat(dNoiseExtra),fit:dFit,lab:dLabels,el:dElastic},
  {col:2,row:0,name:panelNames[4],peaks:ePeaks,noise:eNoise.concat(eNoiseExtra),fit:eFit,lab:eLabels,el:eElastic},
  {col:2,row:1,name:panelNames[5],peaks:fPeaks,noise:fNoise.concat(fNoiseExtra),fit:fFit,lab:fLabels,el:fElastic}
];

const defs = svg.append("defs");
panels.forEach((p, i) => {
  const x = xs[p.col], y = ys[p.row];
  const [x0, x1] = colPx[p.col], [y0, y1] = rowPx[p.row];
  defs.append("clipPath").attr("id", "clip" + i)
    .append("rect").attr("x", x0).attr("y", y0).attr("width", x1 - x0).attr("height", y1 - y0);
  const g = svg.append("g").attr("clip-path", `url(#clip${i})`);
  const pts = p.noise.concat(p.peaks);
  g.selectAll("circle").data(pts).join("circle")
    .attr("cx", d => x(d[0])).attr("cy", d => y(d[1])).attr("r", 4.2)
    .attr("fill", "none").attr("stroke", "#1a1a1a").attr("stroke-width", 1.05);
  const line = d3.line().x(d => x(d[0])).y(d => y(d[1]));
  g.selectAll("path.fit").data(p.fit).join("path").attr("class", "fit")
    .attr("d", line).attr("fill", "none").attr("stroke", "#e3141b").attr("stroke-width", 1.5);

  const lg = svg.append("g");
  p.lab.forEach(l => {
    const t = lg.append("text").attr("x", x(l[0])).attr("y", y(l[1]));
    t.append("tspan").attr("font-style", "italic").attr("font-size", 30).text("V");
    t.append("tspan").attr("font-size", 19).attr("dy", 4).attr("dx", 1).text(l[2]);
  });
  const ex = x(p.el[0]), ey = y(p.el[1]);
  lg.append("text").attr("x", ex).attr("y", ey).attr("text-anchor", "middle").attr("font-size", 24).text("Elastic");
  lg.append("text").attr("x", ex).attr("y", ey + 30).attr("text-anchor", "middle").attr("font-size", 24).text("Peak");
  lg.append("text").attr("x", x0 + 11).attr("y", y0 + 37).attr("font-size", 33).text(p.name);
});

function styleAxis(g) {
  g.select(".domain").remove();
  g.selectAll(".tick line").attr("stroke", "#111").attr("stroke-width", 1.2);
  g.selectAll(".tick text").attr("font-family", "Liberation Serif, Times New Roman, serif").attr("fill", "#111");
}
[[yTopMajor, yTopMinor], [yBotMajor, yBotMinor]].forEach((tk, r) => {
  const gMin = svg.append("g").attr("transform", `translate(${colPx[0][0]},0)`)
    .call(d3.axisLeft(ys[r]).tickValues(tk[1]).tickSize(-3).tickFormat(""));
  styleAxis(gMin);
  const gMaj = svg.append("g").attr("transform", `translate(${colPx[0][0]},0)`)
    .call(d3.axisLeft(ys[r]).tickValues(tk[0]).tickSize(-5).tickPadding(9).tickFormat(d3.format("d")));
  styleAxis(gMaj);
  gMaj.selectAll(".tick text").attr("font-size", 30);
});
xs.forEach((x, c) => {
  const gTop = svg.append("g").attr("transform", `translate(0,${rowPx[0][1]})`)
    .call(d3.axisBottom(x).tickValues(xTickAll).tickSize(-5).tickFormat(""));
  styleAxis(gTop);
  const gBot = svg.append("g").attr("transform", `translate(0,${rowPx[1][1]})`)
    .call(d3.axisBottom(x).tickValues(xTickAll).tickSize(5).tickPadding(9)
      .tickFormat(d => xTickLabels.includes(d) ? d3.format("d")(d).replace("\u2212", "-") : ""));
  styleAxis(gBot);
  gBot.selectAll(".tick text").attr("font-size", 30);
});

const fr = svg.append("g").attr("stroke", "#111").attr("stroke-width", 1.4).attr("fill", "none");
fr.append("rect").attr("x", colPx[0][0]).attr("y", rowPx[0][0])
  .attr("width", colPx[2][1] - colPx[0][0]).attr("height", rowPx[1][1] - rowPx[0][0]);
[colPx[1][0], colPx[2][0]].forEach(v => fr.append("line").attr("x1", v).attr("x2", v).attr("y1", rowPx[0][0]).attr("y2", rowPx[1][1]));
fr.append("line").attr("x1", colPx[0][0]).attr("x2", colPx[2][1]).attr("y1", rowPx[0][1]).attr("y2", rowPx[0][1]);

svg.append("text").attr("x", 477).attr("y", 42).attr("text-anchor", "middle").attr("font-size", 44).text(columnTitles[0]);
svg.append("text").attr("x", 958).attr("y", 42).attr("text-anchor", "middle").attr("font-size", 44).text(columnTitles[1]);
svg.append("text").attr("x", 631).attr("y", 898).attr("text-anchor", "middle").attr("font-size", 46).text(xAxisTitle);
svg.append("text").attr("transform", "translate(54,437) rotate(-90)").attr("text-anchor", "middle").attr("font-size", 50).text(yAxisTitle);
</script>
</body></html>
